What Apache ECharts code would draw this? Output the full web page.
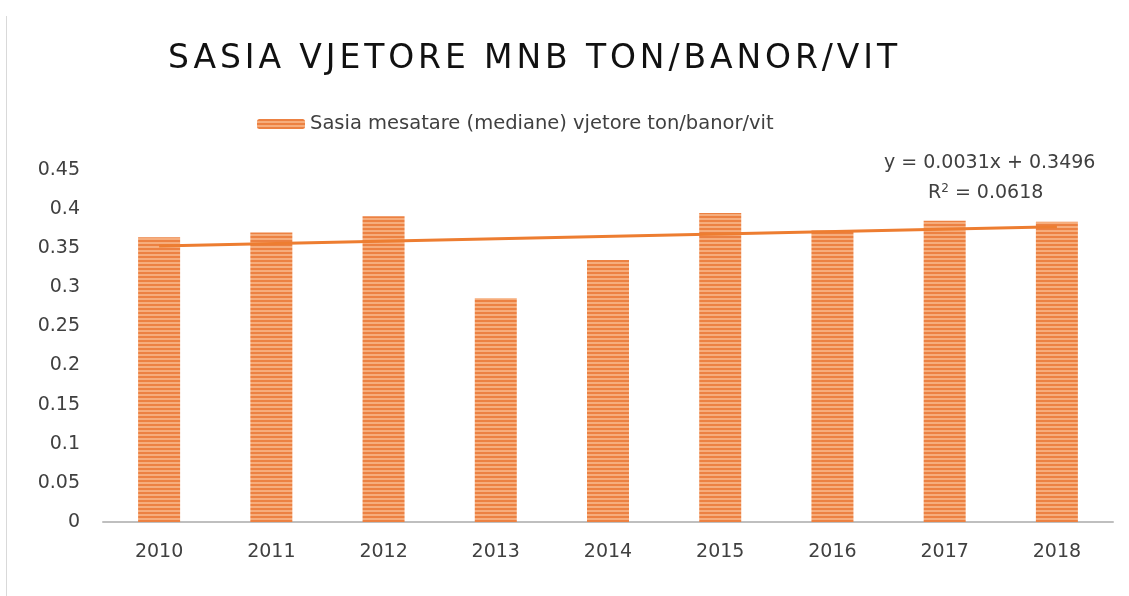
<!DOCTYPE html>
<html>
<head>
<meta charset="utf-8">
<script src="https://cdn.jsdelivr.net/npm/echarts@6/dist/echarts.min.js"></script>
<style>
html,body{margin:0;padding:0;background:#fff;}
#chart{width:1129px;height:596px;}
</style>
</head>
<body>
<div id="chart"></div>
<script>
var titleText = 'SASIA VJETORE MNB TON/BANOR/VIT';
var seriesName = 'Sasia mesatare (mediane) vjetore ton/banor/vit';
var categories = ['2010','2011','2012','2013','2014','2015','2016','2017','2018'];
var values = [0.364, 0.370, 0.391, 0.286, 0.335, 0.395, 0.373, 0.385, 0.384];
var yTicks = [0, 0.05, 0.1, 0.15, 0.2, 0.25, 0.3, 0.35, 0.4, 0.45];
var trendSlope = 0.0031;
var trendIntercept = 0.3496;
var trendR2 = '0.0618';

// trendline endpoints from the displayed equation (x = 1..n)
var trendData = categories.map(function(c, i){
  if (i === 0 || i === categories.length - 1) return +(trendSlope * (i + 1) + trendIntercept).toFixed(4);
  return '-';
});

// wide letter spacing for the title (as in the original)
(function(){
  var orig = CanvasRenderingContext2D.prototype.fillText;
  CanvasRenderingContext2D.prototype.fillText = function(t, x, y, m){
    if (t === titleText && 'letterSpacing' in this) {
      var prev = this.letterSpacing;
      this.letterSpacing = '3.9px';
      var r = m === undefined ? orig.call(this, t, x, y) : orig.call(this, t, x, y, m);
      this.letterSpacing = prev;
      return r;
    }
    return orig.apply(this, arguments);
  };
})();

function stripePattern(){
  var c = document.createElement('canvas');
  c.width = 4; c.height = 4;
  var ctx = c.getContext('2d');
  ctx.fillStyle = '#ec8142'; ctx.fillRect(0,0,4,2);
  ctx.fillStyle = '#f6ad7c'; ctx.fillRect(0,2,4,2);
  return c;
}
var pat = {image: stripePattern(), repeat: 'repeat'};

var chart = echarts.init(document.getElementById('chart'), null, {renderer:'canvas'});
var fontFam = '"DejaVu Sans", "Liberation Sans", sans-serif';
chart.setOption({
  backgroundColor: '#ffffff',
  animation: false,
  title: {
    text: titleText,
    left: 163, top: 38,
    textStyle: {fontFamily: fontFam, fontSize: 33, fontWeight: 'normal', color: '#111111'}
  },
  legend: {
    data: [seriesName],
    top: 109, left: 252,
    itemWidth: 48, itemHeight: 10, itemGap: 6,
    textStyle: {fontFamily: fontFam, fontSize: 19.5, color: '#404040'}
  },
  grid: {left: 103, right: 16, top: 170, bottom: 74},
  xAxis: {
    type: 'category', data: categories,
    axisLine: {lineStyle: {color: '#bfbfbf', width: 2}},
    axisTick: {show: false},
    axisLabel: {fontFamily: fontFam, fontSize: 19, color: '#404040', margin: 21}
  },
  yAxis: {
    type: 'value', min: yTicks[0], max: yTicks[yTicks.length-1], interval: 0.05,
    axisLine: {show: false}, axisTick: {show: false},
    splitLine: {show: false},
    axisLabel: {fontFamily: fontFam, fontSize: 19, color: '#404040', margin: 23,
      formatter: function(v){ return String(+v.toFixed(2)); }}
  },
  graphic: [
    {type:'line', shape:{x1:6.5,y1:16,x2:6.5,y2:596}, style:{stroke:'#d9d9d9', lineWidth:1}},
    {type:'text', left: 884, top: 154, style:{text:'y = ' + trendSlope + 'x + ' + trendIntercept, fontFamily: fontFam, fontSize: 19, fill:'#404040'}},
    {type:'text', left: 928, top: 183, style:{rich:{a:{fontFamily: fontFam, fontSize:19, fill:'#404040'}, s:{fontFamily: fontFam, fontSize:12, fill:'#404040', verticalAlign:'top', padding:[0,0,8,0]}}, text:'{a|R}{s|2}{a| = ' + trendR2 + '}'}}
  ],
  series: [
    {
      name: seriesName, type: 'bar', data: values, barWidth: 42,
      itemStyle: {color: pat}
    },
    {
      name: 'trend', type: 'line', data: trendData, connectNulls: true,
      symbol: 'none', lineStyle: {color: '#ed7d31', width: 3}, z: 5
    }
  ]
});
</script>
</body>
</html>
